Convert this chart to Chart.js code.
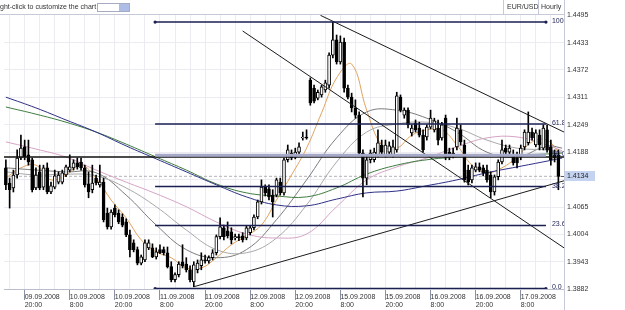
<!DOCTYPE html>
<html>
<head>
<meta charset="utf-8">
<script src="https://cdn.jsdelivr.net/npm/chart.js@4.4.1/dist/chart.umd.min.js"></script>
<style>
  html, body { margin: 0; padding: 0; background: #fff; }
</style>
</head>
<body>
<canvas id="eurusdChart" width="625" height="310"></canvas>
<script>
// hourly EUR/USD candles, 09.09.2008 15:00 .. 17.09.2008
const candleOpen = [
    1.4153, 1.4119, 1.4108, 1.4137, 1.4175, 1.4200, 1.4182, 1.4171, 1.4108, 1.4144,
    1.4110, 1.4153, 1.4099, 1.4110, 1.4121, 1.4121, 1.4137, 1.4148, 1.4153, 1.4164,
    1.4166, 1.4153, 1.4117, 1.4104, 1.4130, 1.4115, 1.4121, 1.4052, 1.4021, 1.4063,
    1.4052, 1.4043, 1.4032, 1.4003, 1.3985, 1.3970, 1.3940, 1.3947, 1.3974, 1.3974,
    1.3954, 1.3970, 1.3970, 1.3963, 1.3932, 1.3903, 1.3914, 1.3943, 1.3938, 1.3925,
    1.3898, 1.3925, 1.3934, 1.3947, 1.3945, 1.3952, 1.3963, 1.3999, 1.4019, 1.4012,
    1.4010, 1.3996, 1.3999, 1.4001, 1.3996, 1.4008, 1.4019, 1.4043, 1.4077, 1.4110,
    1.4106, 1.4092, 1.4092, 1.4121, 1.4097, 1.4171, 1.4186, 1.4177, 1.4188, 1.4220,
    1.4222, 1.4349, 1.4331, 1.4309, 1.4316, 1.4327, 1.4338, 1.4405, 1.4439, 1.4390,
    1.4434, 1.4331, 1.4311, 1.4287, 1.4271, 1.4186, 1.4130, 1.4171, 1.4171, 1.4182,
    1.4204, 1.4182, 1.4188, 1.4182, 1.4193, 1.4311, 1.4271, 1.4282, 1.4231, 1.4253,
    1.4242, 1.4226, 1.4222, 1.4244, 1.4238, 1.4242, 1.4220, 1.4264, 1.4188, 1.4186,
    1.4200, 1.4238, 1.4204, 1.4148, 1.4126, 1.4148, 1.4155, 1.4153, 1.4148, 1.4137,
    1.4099, 1.4133, 1.4166, 1.4197, 1.4188, 1.4182, 1.4175, 1.4177, 1.4200, 1.4209,
    1.4233, 1.4204, 1.4226, 1.4197, 1.4238, 1.4200, 1.4182, 1.4182
];
const candleHigh = [
    1.4171, 1.4130, 1.4148, 1.4193, 1.4226, 1.4215, 1.4215, 1.4175, 1.4153, 1.4159,
    1.4159, 1.4164, 1.4121, 1.4148, 1.4144, 1.4148, 1.4159, 1.4182, 1.4171, 1.4175,
    1.4175, 1.4159, 1.4144, 1.4159, 1.4137, 1.4159, 1.4130, 1.4063, 1.4059, 1.4070,
    1.4059, 1.4050, 1.4039, 1.4014, 1.3992, 1.3976, 1.3958, 1.3992, 1.3992, 1.3983,
    1.3974, 1.3981, 1.3976, 1.3976, 1.3943, 1.3918, 1.3943, 1.3981, 1.3952, 1.3934,
    1.3943, 1.3947, 1.3963, 1.3958, 1.3956, 1.3970, 1.4003, 1.4041, 1.4025, 1.4032,
    1.4019, 1.4005, 1.4005, 1.4008, 1.4023, 1.4023, 1.4048, 1.4081, 1.4126, 1.4115,
    1.4115, 1.4104, 1.4130, 1.4130, 1.4175, 1.4204, 1.4193, 1.4197, 1.4209, 1.4233,
    1.4238, 1.4354, 1.4338, 1.4327, 1.4338, 1.4349, 1.4410, 1.4479, 1.4450, 1.4448,
    1.4443, 1.4338, 1.4320, 1.4305, 1.4278, 1.4193, 1.4182, 1.4193, 1.4197, 1.4238,
    1.4215, 1.4215, 1.4211, 1.4215, 1.4322, 1.4316, 1.4287, 1.4287, 1.4249, 1.4260,
    1.4255, 1.4238, 1.4249, 1.4282, 1.4264, 1.4260, 1.4255, 1.4271, 1.4197, 1.4197,
    1.4264, 1.4249, 1.4215, 1.4159, 1.4159, 1.4164, 1.4164, 1.4159, 1.4159, 1.4144,
    1.4137, 1.4171, 1.4215, 1.4204, 1.4204, 1.4193, 1.4188, 1.4204, 1.4238, 1.4278,
    1.4242, 1.4238, 1.4238, 1.4249, 1.4249, 1.4215, 1.4193, 1.4193
];
const candleLow = [
    1.4104, 1.4063, 1.4099, 1.4130, 1.4171, 1.4171, 1.4159, 1.4099, 1.4104, 1.4104,
    1.4104, 1.4095, 1.4095, 1.4106, 1.4117, 1.4117, 1.4133, 1.4144, 1.4148, 1.4150,
    1.4148, 1.4110, 1.4086, 1.4097, 1.4115, 1.4110, 1.4032, 1.4016, 1.4016, 1.4043,
    1.4028, 1.4021, 1.3999, 1.3954, 1.3965, 1.3936, 1.3936, 1.3943, 1.3970, 1.3952,
    1.3949, 1.3961, 1.3958, 1.3929, 1.3898, 1.3898, 1.3909, 1.3929, 1.3920, 1.3898,
    1.3887, 1.3918, 1.3925, 1.3940, 1.3940, 1.3947, 1.3958, 1.3994, 1.3992, 1.3996,
    1.3983, 1.3992, 1.3990, 1.3987, 1.3992, 1.4003, 1.4014, 1.4039, 1.4072, 1.4090,
    1.4081, 1.4043, 1.4088, 1.4092, 1.4092, 1.4166, 1.4171, 1.4173, 1.4184, 1.4215,
    1.4217, 1.4293, 1.4298, 1.4305, 1.4311, 1.4322, 1.4331, 1.4399, 1.4385, 1.4385,
    1.4322, 1.4307, 1.4278, 1.4264, 1.4182, 1.4088, 1.4115, 1.4164, 1.4166, 1.4177,
    1.4182, 1.4177, 1.4182, 1.4177, 1.4188, 1.4278, 1.4264, 1.4242, 1.4224, 1.4233,
    1.4222, 1.4188, 1.4215, 1.4240, 1.4233, 1.4204, 1.4215, 1.4171, 1.4171, 1.4175,
    1.4193, 1.4204, 1.4121, 1.4115, 1.4119, 1.4144, 1.4144, 1.4135, 1.4121, 1.4086,
    1.4092, 1.4126, 1.4162, 1.4182, 1.4184, 1.4159, 1.4153, 1.4171, 1.4193, 1.4204,
    1.4215, 1.4200, 1.4193, 1.4193, 1.4188, 1.4159, 1.4166, 1.4104
];
const candleClose = [
    1.4115, 1.4104, 1.4137, 1.4175, 1.4197, 1.4177, 1.4166, 1.4104, 1.4137, 1.4108,
    1.4153, 1.4099, 1.4113, 1.4135, 1.4137, 1.4142, 1.4155, 1.4155, 1.4164, 1.4155,
    1.4153, 1.4115, 1.4099, 1.4119, 1.4119, 1.4121, 1.4037, 1.4021, 1.4054, 1.4048,
    1.4032, 1.4025, 1.4003, 1.3970, 1.3970, 1.3940, 1.3954, 1.3985, 1.3985, 1.3954,
    1.3965, 1.3963, 1.3963, 1.3932, 1.3903, 1.3914, 1.3938, 1.3934, 1.3925, 1.3903,
    1.3936, 1.3940, 1.3947, 1.3945, 1.3952, 1.3963, 1.3999, 1.4021, 1.3999, 1.4001,
    1.3992, 1.3999, 1.3996, 1.3992, 1.4019, 1.4019, 1.4043, 1.4077, 1.4110, 1.4097,
    1.4088, 1.4077, 1.4126, 1.4097, 1.4171, 1.4193, 1.4175, 1.4188, 1.4200, 1.4222,
    1.4220, 1.4298, 1.4302, 1.4322, 1.4334, 1.4343, 1.4405, 1.4439, 1.4390, 1.4434,
    1.4331, 1.4311, 1.4287, 1.4271, 1.4186, 1.4130, 1.4171, 1.4186, 1.4188, 1.4209,
    1.4188, 1.4204, 1.4202, 1.4200, 1.4314, 1.4282, 1.4282, 1.4249, 1.4242, 1.4238,
    1.4226, 1.4193, 1.4244, 1.4264, 1.4258, 1.4215, 1.4249, 1.4177, 1.4177, 1.4182,
    1.4242, 1.4211, 1.4126, 1.4121, 1.4153, 1.4155, 1.4148, 1.4142, 1.4126, 1.4099,
    1.4133, 1.4166, 1.4193, 1.4188, 1.4197, 1.4164, 1.4164, 1.4197, 1.4233, 1.4233,
    1.4220, 1.4231, 1.4204, 1.4242, 1.4193, 1.4171, 1.4175, 1.4134
];

// x axis: one slot per hour, labels every 12 bars starting at bar 5
const slotCount = 149;
const tickDates = ['09.09.2008', '10.09.2008', '10.09.2008', '11.09.2008', '11.09.2008', '12.09.2008',
    '12.09.2008', '15.09.2008', '15.09.2008', '16.09.2008', '16.09.2008', '17.09.2008'];
const tickTimes = ['20:00', '8:00', '20:00', '8:00', '20:00', '8:00', '20:00', '8:00', '20:00', '8:00', '20:00', '8:00'];
const firstTick = 5;
const tickStep = 12;

const priceTicks = [1.3882, 1.3943, 1.4004, 1.4065, 1.4127, 1.4188, 1.4249, 1.4311, 1.4372, 1.4433, 1.4495];
const lastPrice = 1.4134;

const maIndex = [0, 8, 16, 24, 32, 40, 48, 56, 64, 72, 80, 88, 96, 104, 112, 120, 128, 136, 144, 148];
const maBlue = [1.4311, 1.4287, 1.4260, 1.4233, 1.4202, 1.4173, 1.4144, 1.4115, 1.4088, 1.4070,
    1.4068, 1.4083, 1.4097, 1.4101, 1.4113, 1.4126, 1.4142, 1.4155, 1.4168, 1.4175];
const maGreen = [1.4289, 1.4273, 1.4255, 1.4233, 1.4206, 1.4177, 1.4148, 1.4117, 1.4097, 1.4090,
    1.4088, 1.4108, 1.4139, 1.4159, 1.4171, 1.4177, 1.4180, 1.4182, 1.4184, 1.4186];
const maPink = [1.4211, 1.4195, 1.4177, 1.4148, 1.4121, 1.4095, 1.4066, 1.4032, 1.4005, 1.3996,
    1.4005, 1.4066, 1.4126, 1.4155, 1.4175, 1.4200, 1.4220, 1.4222, 1.4204, 1.4191];
const maGrayDark = [1.4153, 1.4148, 1.4144, 1.4142, 1.4092, 1.4025, 1.3970, 1.3952, 1.3970, 1.4037,
    1.4126, 1.4220, 1.4278, 1.4282, 1.4264, 1.4233, 1.4188, 1.4177, 1.4202, 1.4197];
const maGrayLight = [1.4144, 1.4137, 1.4139, 1.4135, 1.4108, 1.4066, 1.4014, 1.3970, 1.3963, 1.3996,
    1.4070, 1.4166, 1.4233, 1.4251, 1.4255, 1.4242, 1.4215, 1.4197, 1.4193, 1.4188];
const fastIndex = [0, 4, 8, 12, 16, 20, 24, 28, 32, 36, 40, 44, 48, 52, 56, 60, 64, 68, 72, 76,
    80, 84, 88, 92, 96, 100, 104, 108, 112, 116, 120, 124, 128, 132, 136, 140, 144, 147];
const maOrange = [1.4130, 1.4153, 1.4159, 1.4126, 1.4137, 1.4159, 1.4130, 1.4081, 1.4041, 1.3992,
    1.3965, 1.3952, 1.3929, 1.3929, 1.3952, 1.3981, 1.4001, 1.4025, 1.4081, 1.4137,
    1.4197, 1.4276, 1.4354, 1.4385, 1.4282, 1.4204, 1.4197, 1.4226, 1.4238, 1.4238,
    1.4204, 1.4159, 1.4142, 1.4153, 1.4177, 1.4211, 1.4215, 1.4188];

// fibonacci retracement and drawn lines (bar index, price)
const fibLabels = ['0.0', '23.6', '38.2', '50.0', '61.8', '100'];
const fibPrices = [1.3883, 1.4024, 1.4111, 1.4181, 1.4251, 1.4479];
const fibFrom = 39.7;
const fibTo = 143.7;
const levelLine = 1.4177;
const trendStart = [[83.7, 1.4494], [63.0, 1.4459], [50.0, 1.3887]];
const trendEnd = [[148.5, 1.4233], [148.5, 1.3974], [148.5, 1.4124]];

const FONT = '"Liberation Sans", Arial, sans-serif';
const NAVY = '#1b1f52';

function points(xs, ys) {
    return xs.map((x, i) => ({ x, y: ys[i] }));
}

function lineSet(data, color, extra) {
    return Object.assign({
        type: 'line',
        xAxisID: 'xl',
        data,
        borderColor: color,
        borderWidth: 1,
        pointRadius: 0,
        fill: false,
        order: 1
    }, extra || {});
}

const datasets = [
    {
        label: 'wick',
        data: candleLow.map((l, i) => [l, candleHigh[i]]),
        backgroundColor: '#000',
        barThickness: 1,
        grouped: false,
        order: 3
    },
    {
        label: 'body',
        data: candleOpen.map((o, i) => [o, candleClose[i]]),
        backgroundColor: candleOpen.map((o, i) => candleClose[i] >= o ? '#fff' : '#000'),
        borderColor: '#000',
        borderWidth: 1,
        borderSkipped: false,
        barThickness: 3,
        grouped: false,
        order: 2
    },
    lineSet([{ x: -0.5, y: lastPrice }, { x: 148.5, y: lastPrice }], '#b4b4b8', { borderDash: [3, 2], order: 9 }),
    lineSet(points(maIndex, maBlue), '#2e2f86', { tension: 0.4, order: 5 }),
    lineSet(points(maIndex, maGreen), '#3f7d3f', { tension: 0.4, order: 5 }),
    lineSet(points(maIndex, maPink), '#d7a4c6', { tension: 0.4, order: 5 }),
    lineSet(points(maIndex, maGrayLight), '#a9a9a9', { tension: 0.4, order: 5 }),
    lineSet(points(maIndex, maGrayDark), '#7c7c7c', { tension: 0.4, order: 5 }),
    lineSet(points(fastIndex, maOrange), '#e2a35e', { tension: 0.4, order: 5 }),
    lineSet([{ x: fibFrom, y: fibPrices[3] }, { x: fibTo, y: fibPrices[3] }], '#a7a9c9', { borderWidth: 3 }),
    lineSet([{ x: -0.5, y: levelLine }, { x: 148.5, y: levelLine }], '#111', { borderWidth: 1.5 })
];

fibPrices.forEach((p, i) => {
    if (i === 3) return;
    const anchor = i === 0 || i === fibPrices.length - 1;
    datasets.push(lineSet([{ x: fibFrom, y: p }, { x: fibTo, y: p }], NAVY, {
        borderWidth: 1.5,
        pointRadius: anchor ? 1.6 : 0,
        pointBackgroundColor: NAVY,
        pointBorderWidth: 0
    }));
});

trendStart.forEach((s, i) => {
    const e = trendEnd[i];
    datasets.push(lineSet([{ x: s[0], y: s[1] }, { x: e[0], y: e[1] }], '#1c1c1c'));
});

const overlay = {
    id: 'overlay',
    beforeDraw(chart) {
        const c = chart.ctx;
        c.save();
        c.fillStyle = '#fff';
        c.fillRect(0, 0, chart.width, chart.height);
        c.restore();
    },
    afterDraw(chart) {
        const c = chart.ctx;
        const a = chart.chartArea;
        const ys = chart.scales.y;
        const xs = chart.scales.xl;

        // fib level captions, cut off by the plot edge
        c.save();
        c.beginPath();
        c.rect(a.left, a.top, a.right - a.left, a.bottom - a.top + 4);
        c.clip();
        c.font = '7px ' + FONT;
        c.fillStyle = NAVY;
        c.textBaseline = 'middle';
        fibLabels.forEach((lbl, i) => {
            c.fillText(lbl, xs.getPixelForValue(fibTo) + 6, ys.getPixelForValue(fibPrices[i]) - 1);
        });
        c.restore();

        // last price marker on the axis
        const py = Math.round(ys.getPixelForValue(lastPrice));
        c.save();
        c.fillStyle = '#c4d3ef';
        c.fillRect(a.right + 1, py - 5, 30, 10);
        c.strokeStyle = '#555';
        c.beginPath();
        c.moveTo(a.right - 3, py + 0.5);
        c.lineTo(a.right, py + 0.5);
        c.stroke();
        c.font = '7px ' + FONT;
        c.fillStyle = '#222';
        c.textBaseline = 'middle';
        c.fillText(lastPrice.toFixed(4), a.right + 3, py);
        c.restore();

        // header strip
        c.save();
        c.strokeStyle = '#c6cad8';
        c.lineWidth = 1;
        c.beginPath();
        c.moveTo(0, a.top + 0.5);
        c.lineTo(a.right, a.top + 0.5);
        c.moveTo(a.right + 0.5, 0);
        c.lineTo(a.right + 0.5, chart.height);
        c.moveTo(503.5, 0);
        c.lineTo(503.5, a.top);
        c.moveTo(538.5, 0);
        c.lineTo(538.5, a.top);
        c.stroke();

        c.font = '7px ' + FONT;
        c.fillStyle = '#333';
        c.textBaseline = 'middle';
        const cut = c.measureText('Ri').width;
        c.fillText('Right-click to customize the chart', -cut, 7);
        c.fillText('EUR/USD', 507, 7);
        c.fillText('Hourly', 541, 7);

        c.fillStyle = '#fff';
        c.strokeStyle = '#a4abc2';
        c.fillRect(97.5, 3.5, 32, 8);
        c.strokeRect(97.5, 3.5, 32, 8);
        c.fillStyle = '#aebde6';
        c.fillRect(119, 4, 10, 7);
        c.restore();
    }
};

new Chart(document.getElementById('eurusdChart'), {
    type: 'bar',
    data: {
        labels: Array.from({ length: slotCount }, (_, i) => String(i)),
        datasets
    },
    plugins: [overlay],
    options: {
        responsive: false,
        animation: false,
        events: [],
        layout: { padding: { top: 14, left: 0, right: 0, bottom: 0 } },
        plugins: { legend: { display: false }, tooltip: { enabled: false } },
        scales: {
            x: {
                type: 'category',
                offset: true,
                grid: {
                    offset: false,
                    color: ctx => (ctx.index % 4 === 1 ? '#ebebf1' : 'rgba(0,0,0,0)'),
                    tickColor: ctx => (ctx.index >= firstTick && (ctx.index - firstTick) % tickStep === 0 ? '#8a90a4' : 'rgba(0,0,0,0)'),
                    tickLength: 11,
                    lineWidth: 1
                },
                border: { color: '#b9bdcc' },
                ticks: {
                    autoSkip: false,
                    maxRotation: 0,
                    minRotation: 0,
                    align: 'start',
                    padding: -7,
                    color: '#333',
                    font: { family: FONT, size: 7, lineHeight: 1.15 },
                    callback: (v, i) => {
                        const k = (i - firstTick) / tickStep;
                        if (i < firstTick || !Number.isInteger(k) || k >= tickDates.length) return '';
                        return [tickDates[k], tickTimes[k]];
                    }
                },
                afterFit: s => { s.height = 21; }
            },
            xl: {
                type: 'linear',
                display: false,
                offset: false,
                grid: { offset: false },
                min: -0.5,
                max: slotCount - 0.5
            },
            y: {
                position: 'right',
                min: 1.3882,
                max: 1.4497,
                afterBuildTicks: s => { s.ticks = priceTicks.map(v => ({ value: v })); },
                grid: { color: '#ebebf1', drawTicks: false },
                border: { color: '#c6cad8' },
                ticks: {
                    padding: 3,
                    color: '#333',
                    font: { family: FONT, size: 7 },
                    callback: v => (Math.abs(v - 1.4127) < 1e-6 ? '' : v.toFixed(4))
                },
                afterFit: s => { s.width = 61; }
            }
        }
    }
});
</script>
</body>
</html>
